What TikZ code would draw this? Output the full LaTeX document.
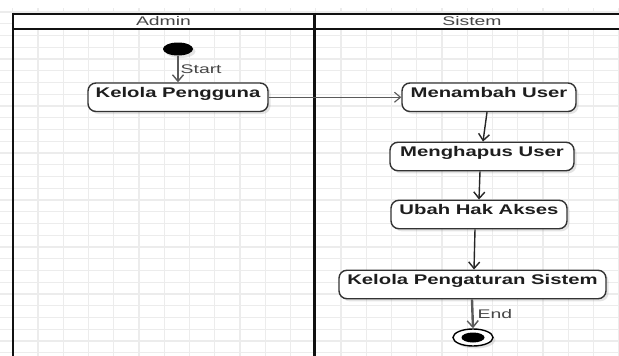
\documentclass[tikz,border=0pt]{standalone}
\usepackage{fontspec}
\setmainfont{Liberation Sans}
\newfontfamily\boxfont[FakeStretch=1.45]{Liberation Sans}
\newfontfamily\labfont[FakeStretch=1.55]{Liberation Sans}
\usetikzlibrary{arrows.meta,shadows,shapes.geometric}

\definecolor{gridc}{HTML}{ECECEC}
\definecolor{lanec}{HTML}{111111}
\definecolor{boxline}{HTML}{333333}
\definecolor{txt}{HTML}{1E1E1E}
\definecolor{headtxt}{HTML}{454545}
\definecolor{flowc}{HTML}{262626}
\definecolor{softflow}{HTML}{5A5A5A}

\tikzset{
  lane/.style={draw=lanec, line width=2.8pt},
  laneedge/.style={draw=lanec, line width=2pt},
  heading/.style={font=\labfont\fontsize{12.5}{14}\selectfont, text=headtxt, inner sep=0pt},
  softshadow/.style={drop shadow={shadow xshift=2.5pt, shadow yshift=-2.5pt, opacity=0.3, fill=black!35}},
  actbox/.style={draw=boxline, line width=1.4pt, rounded corners=8pt, fill=white,
    inner xsep=0pt, inner ysep=0pt, text height=14pt, text depth=14.5pt,
    font=\boxfont\fontsize{14}{16}\selectfont\bfseries, text=txt, softshadow},
  initial/.style={ellipse, fill=black, minimum width=30pt, minimum height=13pt, inner sep=0pt, softshadow},
  final/.style={ellipse, draw=black, line width=1.4pt, fill=white, minimum width=40pt, minimum height=17pt, inner sep=0pt, softshadow},
  finaldot/.style={ellipse, fill=black, minimum width=23pt, minimum height=10pt, inner sep=0pt},
  flow/.style={draw=flowc, line width=1.4pt, -{Straight Barb[length=6.5pt,width=11pt]}},
  heavyflow/.style={draw=softflow, line width=2.4pt, -{Straight Barb[length=6.5pt,width=11pt,line width=1.4pt]}},
  thinflow/.style={draw=softflow, line width=0.9pt, -{Straight Barb[length=6pt,width=10pt,line width=1.1pt]}},
  lab/.style={font=\labfont\fontsize{12.5}{14}\selectfont, text=headtxt, inner sep=0pt}
}

\begin{document}
\begin{tikzpicture}[x=1pt, y=-1pt]
\useasboundingbox (0,0) rectangle (619,356);

% background grid
\begin{scope}
  \clip (0,8) rectangle (619,356);
  \foreach \k in {0,...,24} {
    \draw[gridc, line width=1.2pt] ({12.75+25.25*\k},8) -- ({12.75+25.25*\k},356);
  }
  \foreach \k in {-3,...,27} {
    \draw[gridc, line width=1.2pt] (0,{35.5+11.75*\k}) -- (619,{35.5+11.75*\k});
  }
\end{scope}

% swimlane header
\fill[white] (13,13.5) rectangle (619,28.8);
\draw[laneedge] (12,13.5) -- (619,13.5);
\draw[laneedge] (12,28.8) -- (619,28.8);
\draw[lane] (13,12.5) -- (13,356);
\draw[lane] (314.5,12.5) -- (314.5,356);
\node[heading] (hadmin) at (163.5,21) {Admin};
\node[heading] (hsistem) at (472,21) {Sistem};

% activities
\node[initial] (st) at (178,49) {};
\node[actbox, minimum width=180pt] (kp) at (178,97.25) {Kelola Pengguna};
\node[actbox, minimum width=174pt] (mu) at (489,97.25) {Menambah User};
\node[actbox, minimum width=184pt] (mh) at (482,156.5) {Menghapus User};
\node[actbox, minimum width=176pt] (uh) at (479,214.5) {Ubah Hak Akses};
\node[actbox, minimum width=267pt] (kps) at (472.5,284.5) {Kelola Pengaturan Sistem};
\node[final] (en) at (473,337.5) {};
\node[finaldot] (endot) at (en.center) {};

% control flow
\draw[heavyflow] (st.south) -- node[lab, anchor=west, xshift=1.5pt] (lstart) {Start} (kp.north);
\draw[thinflow] (kp.east) -- (mu.west);
\draw[flow] ([xshift=-2pt]mu.south) -- ([xshift=1pt]mh.north);
\draw[flow] ([xshift=-2pt]mh.south) -- (uh.north);
\draw[flow] ([xshift=-4pt]uh.south) -- ([xshift=1.5pt]kps.north);
\draw[heavyflow] ([xshift=-0.5pt]kps.south) -- node[lab, anchor=west, xshift=4pt] (lend) {End} (en.north);
\end{tikzpicture}
\end{document}
